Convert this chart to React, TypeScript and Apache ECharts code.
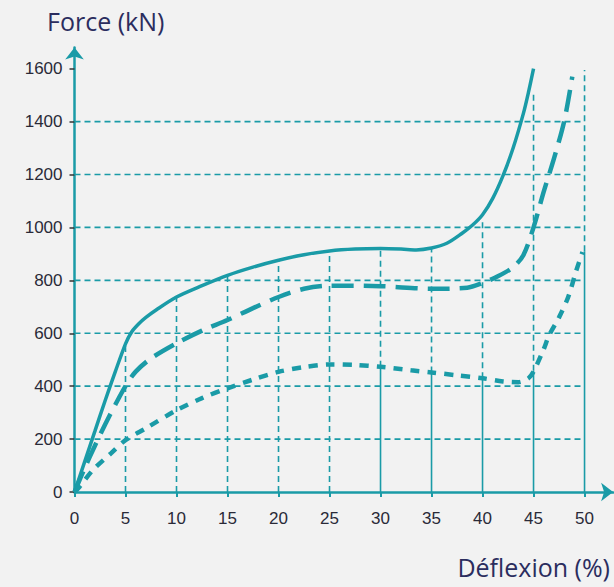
import React, { useEffect, useRef } from "react";
import * as echarts from "echarts";

const TEAL = "#1a9ba7";

const xTicks = [0, 5, 10, 15, 20, 25, 30, 35, 40, 45, 50];
const yTicks = [0, 200, 400, 600, 800, 1000, 1200, 1400, 1600];
const hGridValues = [200, 400, 600, 800, 1000, 1200, 1400];
const vGridX = [5, 10, 15, 20, 25, 30, 35, 40, 45, 50];
const vGridTop = [560, 735, 818, 875, 910, 918, 922, 1030, 1510, 1595];
const vGridSolidTo = [0, 0, 0, 0, 0, 473, 452, 430, 458, 910];

const solidCurve = [
  [0, 0], [1, 115], [2, 230], [3, 345], [4, 455], [5, 560], [5.6, 605], [6.3, 636], [7, 660],
  [8, 688], [10, 737], [12.5, 780], [15, 819], [17.5, 850], [20, 876], [22.5, 897],
  [25, 911], [27.5, 918], [30, 920], [32, 918], [33.5, 915], [35, 922], [36.5, 940],
  [38, 978], [39, 1008], [40, 1048], [41, 1110], [42, 1195], [43, 1300], [44, 1430],
  [44.5, 1510], [45, 1600],
];

const dashedCurve = [
  [0, 0], [1, 90], [2, 175], [3, 255], [4, 330], [5, 400], [6, 455], [7.5, 505],
  [10, 562], [12.5, 610], [15, 650], [17.5, 695], [20, 737], [22.5, 768], [25, 780],
  [30, 778], [35, 768], [38.5, 772], [40, 790], [41.5, 815], [43, 850], [44, 895],
  [45, 1000], [46, 1135], [47, 1260], [48, 1400], [48.8, 1570],
];

const dotDashCurve = [
  [0, 0], [0.5, 20], [1.8, 83], [3.6, 147], [5, 196], [7, 241], [10, 309], [12.5, 355],
  [15, 392], [17.5, 425], [20, 454], [22.5, 472], [25, 482], [27.5, 480], [30, 473],
  [33, 460], [35, 452], [37.5, 441], [40, 430], [42, 418], [43.5, 415], [44.5, 430],
  [45, 455], [46, 540], [46.5, 590], [47.5, 660], [48.4, 737], [49.2, 838], [49.8, 907],
];

export default function App() {
  const ref = useRef<HTMLDivElement>(null);

  useEffect(() => {
    if (!ref.current) return;
    const chart = echarts.init(ref.current, null, { renderer: "svg" });

    const gridSegments: number[][] = [];
    hGridValues.forEach((y) => gridSegments.push([0, y, 50, y, 0]));
    vGridX.forEach((x, i) => {
      const solidTo = vGridSolidTo[i];
      if (solidTo > 0) {
        gridSegments.push([x, 0, x, solidTo, 1]);
        gridSegments.push([x, solidTo, x, vGridTop[i], 0]);
      } else {
        gridSegments.push([x, 0, x, vGridTop[i], 0]);
      }
    });

    const labelFont = {
      fontFamily: "'Liberation Sans', Arial, sans-serif",
      fontSize: 17,
      color: "#2a2a38",
      formatter: (v: number) => String(v),
    };

    const titleFont = {
      fontFamily: "'Open Sans', 'Noto Sans', sans-serif",
      fontSize: 25,
      fill: "#2b2d5e",
      textVerticalAlign: "middle",
    };

    chart.setOption({
      animation: false,
      backgroundColor: "#f2f2f2",
      grid: { left: 74.5, right: 0.9, top: 47.5, bottom: 95, containLabel: false },
      xAxis: {
        type: "value",
        min: 0,
        max: 52.8,
        axisLine: {
          show: true,
          symbol: ["none", "arrow"],
          symbolSize: [14, 12],
          lineStyle: { color: TEAL, width: 2.5 },
        },
        axisTick: {
          show: true,
          customValues: xTicks,
          length: 5,
          lineStyle: { color: TEAL, width: 2 },
        },
        axisLabel: { customValues: xTicks, margin: 18, ...labelFont },
        splitLine: { show: false },
      },
      yAxis: {
        type: "value",
        min: 0,
        max: 1680,
        axisLine: {
          show: true,
          symbol: ["none", "arrow"],
          symbolSize: [14, 12],
          lineStyle: { color: TEAL, width: 2.5 },
        },
        axisTick: {
          show: true,
          customValues: yTicks,
          length: 5,
          lineStyle: { color: "#333", width: 1.5 },
        },
        axisLabel: { customValues: yTicks, margin: 12, ...labelFont },
        splitLine: { show: false },
      },
      graphic: [
        {
          type: "text",
          x: 47,
          y: 21,
          style: { text: "Force (kN)", textAlign: "left", ...titleFont },
        },
        {
          type: "text",
          x: 610,
          y: 567,
          style: { text: "Déflexion (%)", textAlign: "right", ...titleFont },
        },
      ],
      series: [
        {
          type: "custom",
          z: 1,
          silent: true,
          data: gridSegments,
          renderItem: (params: any, api: any) => {
            const p0 = api.coord([api.value(0), api.value(1)]);
            const p1 = api.coord([api.value(2), api.value(3)]);
            const solid = api.value(4) === 1;
            return {
              type: "line",
              shape: { x1: p0[0], y1: p0[1], x2: p1[0], y2: p1[1] },
              style: {
                stroke: TEAL,
                lineWidth: 1.6,
                lineDash: solid ? null : [6, 4],
                fill: null,
              },
            };
          },
        },
        {
          type: "line",
          z: 3,
          data: solidCurve,
          smooth: 0.3,
          showSymbol: false,
          lineStyle: { color: TEAL, width: 3.5 },
        },
        {
          type: "line",
          z: 3,
          data: dashedCurve,
          smooth: 0.3,
          showSymbol: false,
          lineStyle: { color: TEAL, width: 4.5, type: [22, 10] },
        },
        {
          type: "line",
          z: 3,
          data: dotDashCurve,
          smooth: 0.3,
          showSymbol: false,
          lineStyle: { color: TEAL, width: 4.5, type: [9, 8] },
        },
      ],
    });

    return () => chart.dispose();
  }, []);

  return (
    <div
      ref={ref}
      style={{ position: "fixed", left: 0, top: 0, width: 614, height: 587, background: "#f2f2f2" }}
    />
  );
}
